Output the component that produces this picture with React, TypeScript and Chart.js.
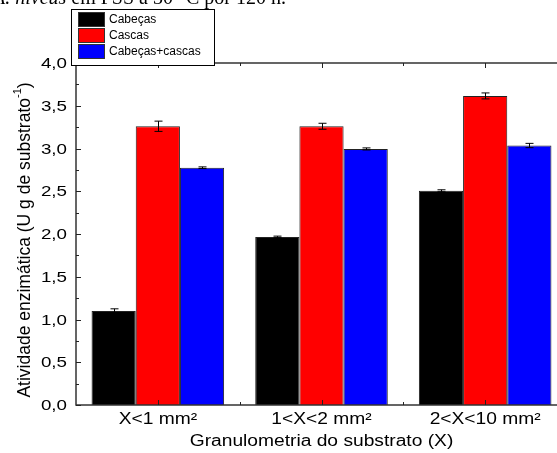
import React, { useEffect, useRef } from "react";
import { Chart, registerables } from "chart.js";

Chart.register(...registerables);

const categories = ["X<1 mm²", "1<X<2 mm²", "2<X<10 mm²"];
const seriesNames = ["Cabeças", "Cascas", "Cabeças+cascas"];
const seriesColors = ["#000000", "#ff0000", "#0000ff"];
const cabecas = [1.10, 1.965, 2.505];
const cascas = [3.26, 3.26, 3.615];
const cabecasCascas = [2.775, 2.995, 3.035];
const cabecasErr = [0.025, 0.01, 0.012];
const cascasErr = [0.06, 0.035, 0.035];
const cabecasCascasErr = [0.01, 0.012, 0.025];
const yTicks = [0, 0.5, 1, 1.5, 2, 2.5, 3, 3.5, 4];
const xTitle = "Granulometria do substrato (X)";
const yTitleMain = "Atividade enzimática (U g de substrato";
const yTitleSup = "-1";
const yTitleEnd = ")";

const SANS = "'Liberation Sans', Arial, sans-serif";

function stretchText(ctx: any, text: string, x: number, y: number, sx: number, align: string) {
  ctx.save();
  ctx.translate(x, y);
  ctx.scale(sx, 1);
  ctx.textAlign = align;
  ctx.fillText(text, 0, 0);
  ctx.restore();
}

const errorBarPlugin = {
  id: "errorBars",
  afterDatasetsDraw(chart: any) {
    const ctx = chart.ctx;
    const y = chart.scales.y;
    ctx.save();
    ctx.strokeStyle = "#000";
    ctx.lineWidth = 1;
    chart.data.datasets.forEach((ds: any, i: number) => {
      const meta = chart.getDatasetMeta(i);
      meta.data.forEach((bar: any, j: number) => {
        const v = ds.data[j];
        const e = ds.errors[j];
        const x = Math.round(bar.x) + 0.5;
        const y1 = y.getPixelForValue(v + e);
        const y2 = y.getPixelForValue(v - e);
        ctx.beginPath();
        ctx.moveTo(x, y1);
        ctx.lineTo(x, y2);
        ctx.moveTo(x - 4, y1);
        ctx.lineTo(x + 4, y1);
        ctx.moveTo(x - 4, y2);
        ctx.lineTo(x + 4, y2);
        ctx.stroke();
      });
    });
    ctx.restore();
  },
};

const framePlugin = {
  id: "frame",
  afterDatasetsDraw(chart: any) {
    const ctx = chart.ctx;
    const a = chart.chartArea;
    const y = chart.scales.y;
    const x = chart.scales.x;
    ctx.save();
    ctx.strokeStyle = "#333";
    ctx.lineWidth = 1.5;
    ctx.strokeRect(a.left, a.top, a.right - a.left, a.bottom - a.top);
    ctx.lineWidth = 1;
    ctx.strokeStyle = "#222";
    ctx.beginPath();
    for (let v = 0; v <= 4.0001; v += 0.25) {
      const py = Math.round(y.getPixelForValue(v)) + 0.5;
      const major = Math.abs(v * 2 - Math.round(v * 2)) < 1e-6;
      const len = major ? 5 : 3;
      ctx.moveTo(a.left, py);
      ctx.lineTo(a.left + len, py);
    }
    const n = categories.length;
    for (let k = 0; k < n; k++) {
      const px = Math.round(x.getPixelForValue(k)) + 0.5;
      ctx.moveTo(px, a.bottom);
      ctx.lineTo(px, a.bottom - 5);
      ctx.moveTo(px, a.top);
      ctx.lineTo(px, a.top + 5);
      if (k < n - 1) {
        const mx = Math.round((x.getPixelForValue(k) + x.getPixelForValue(k + 1)) / 2) + 0.5;
        ctx.moveTo(mx, a.bottom);
        ctx.lineTo(mx, a.bottom - 3);
        ctx.moveTo(mx, a.top);
        ctx.lineTo(mx, a.top + 3);
      }
    }
    ctx.stroke();

    // tick labels and titles (horizontally stretched like the reference)
    ctx.fillStyle = "#000";
    ctx.textBaseline = "middle";
    ctx.font = `15px ${SANS}`;
    yTicks.forEach((v) => {
      const label = v.toFixed(1).replace(".", ",");
      stretchText(ctx, label, a.left - 9, y.getPixelForValue(v) + 1, 1.25, "right");
    });
    ctx.font = `16px ${SANS}`;
    categories.forEach((c, k) => {
      stretchText(ctx, c, x.getPixelForValue(k), a.bottom + 15, 1.2, "center");
    });
    stretchText(ctx, xTitle, x.getPixelForValue(1), a.bottom + 37, 1.2, "center");

    // rotated y title with superscript
    ctx.save();
    ctx.translate(25, 240);
    ctx.rotate(-Math.PI / 2);
    ctx.textAlign = "left";
    ctx.font = `17.5px ${SANS}`;
    const w1 = ctx.measureText(yTitleMain).width;
    const w3 = ctx.measureText(yTitleEnd).width;
    ctx.font = `11px ${SANS}`;
    const w2 = ctx.measureText(yTitleSup).width;
    const total = w1 + w2 + w3;
    let cx = -total / 2;
    ctx.font = `17.5px ${SANS}`;
    ctx.fillText(yTitleMain, cx, 0);
    cx += w1;
    ctx.font = `11px ${SANS}`;
    ctx.fillText(yTitleSup, cx, -7);
    cx += w2;
    ctx.font = `17.5px ${SANS}`;
    ctx.fillText(yTitleEnd, cx, 0);
    ctx.restore();
    ctx.restore();
  },
};

const legendPlugin = {
  id: "customLegend",
  afterDraw(chart: any) {
    const ctx = chart.ctx;
    ctx.save();
    // cut-off caption above the chart
    ctx.fillStyle = "#000";
    ctx.textBaseline = "alphabetic";
    ctx.font = "italic 20px 'Liberation Serif'";
    ctx.fillText("A. niveus", -7, 4);
    const w = ctx.measureText("A. niveus").width;
    ctx.font = "20px 'Liberation Serif'";
    ctx.fillText(" em FSS a 30 °C por 120 h.", -7 + w, 4);
    // legend box
    const bx = 71.5, by = 9.5, bw = 143, bh = 56;
    ctx.fillStyle = "#fff";
    ctx.fillRect(bx, by, bw, bh);
    ctx.strokeStyle = "#000";
    ctx.lineWidth = 1;
    ctx.strokeRect(bx, by, bw, bh);
    ctx.font = `12px ${SANS}`;
    ctx.textBaseline = "middle";
    seriesNames.forEach((name, i) => {
      const ry = 12 + i * 16;
      ctx.fillStyle = seriesColors[i];
      ctx.fillRect(78, ry, 27, 15);
      ctx.strokeStyle = "#333";
      ctx.strokeRect(78.5, ry + 0.5, 26, 14);
      ctx.fillStyle = "#000";
      ctx.fillText(name, 109, ry + 8);
    });
    ctx.restore();
  },
};

export default function App() {
  const ref = useRef<HTMLCanvasElement>(null);
  useEffect(() => {
    document.body.style.margin = "0";
    const allVals = [cabecas, cascas, cabecasCascas];
    const allErr = [cabecasErr, cascasErr, cabecasCascasErr];
    const chart = new Chart(ref.current as HTMLCanvasElement, {
      type: "bar",
      data: {
        labels: categories,
        datasets: seriesNames.map((name, i) => ({
          label: name,
          data: allVals[i],
          errors: allErr[i],
          backgroundColor: seriesColors[i],
          borderColor: "#222",
          borderWidth: 1,
          categoryPercentage: 0.81,
          barPercentage: 1.0,
        })) as any,
      },
      options: {
        animation: false,
        responsive: false,
        maintainAspectRatio: false,
        layout: { padding: { top: 63, right: 13, left: 0, bottom: 0 } },
        plugins: { legend: { display: false }, tooltip: { enabled: false } },
        scales: {
          x: {
            grid: { display: false },
            border: { display: false },
            ticks: { display: false },
            afterFit: (s: any) => {
              s.height = 48;
            },
          },
          y: {
            min: 0,
            max: 4,
            afterBuildTicks: (s: any) => {
              s.ticks = yTicks.map((v) => ({ value: v }));
            },
            grid: { display: false },
            border: { display: false },
            ticks: { display: false },
            afterFit: (s: any) => {
              s.width = 76;
            },
          },
        },
      },
      plugins: [errorBarPlugin, framePlugin, legendPlugin],
    });
    return () => chart.destroy();
  }, []);
  return (
    <div style={{ position: "absolute", left: 0, top: 0, width: 557, height: 453, overflow: "hidden", background: "#fff" }}>
      <canvas ref={ref} width={580} height={453} style={{ display: "block" }} />
    </div>
  );
}
